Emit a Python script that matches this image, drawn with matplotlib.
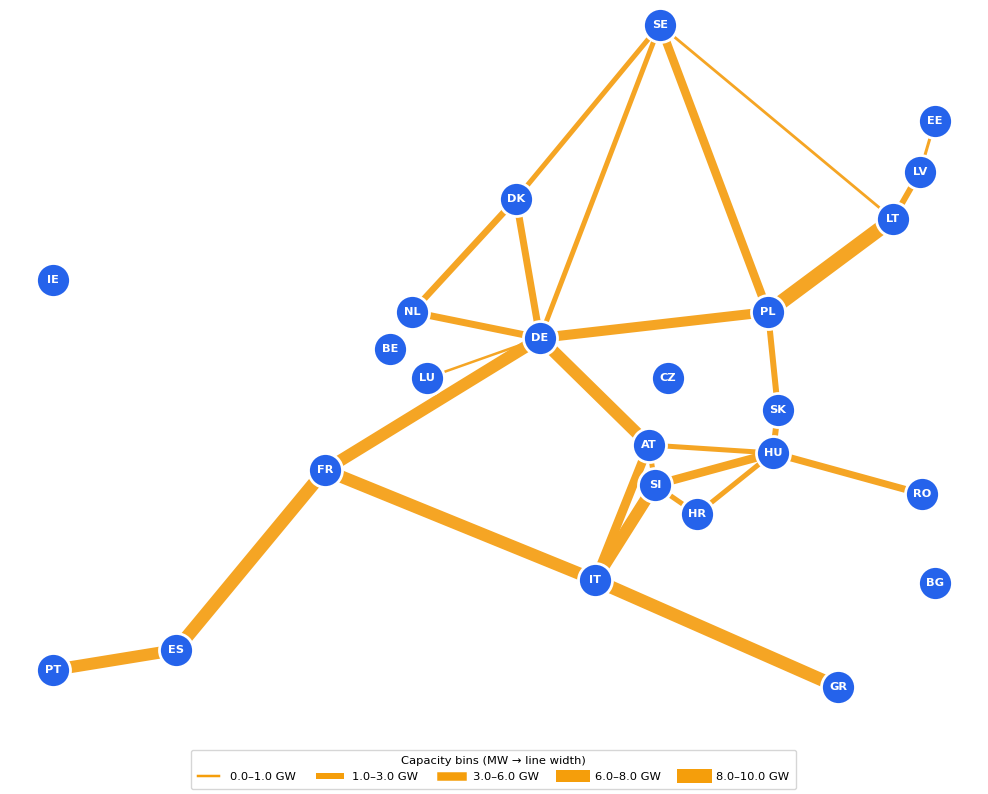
import matplotlib
matplotlib.use("Agg")
import matplotlib.pyplot as plt
from matplotlib.lines import Line2D

W, H = 988, 794
nodes = ["SE","EE","LV","LT","DK","IE","NL","PL","DE","BE","LU","CZ","SK","AT","HU","FR","SI","RO","HR","IT","BG","ES","PT","GR"]
node_x = [660,935,920,893,516,53,412,768,540,390,427,668,778,649,773,325,655,922,697,595,935,176,53,838]
node_y = [25,121,172,219,199,280,312,312,338,349,378,378,410,445,453,470,485,494,514,580,583,650,670,687]
edge_from = ["SE","SE","SE","SE","DK","DK","NL","LU","DE","DE","DE","PL","PL","LT","LV","SK","AT","AT","AT","SI","SI","SI","HR","HU","FR","FR","ES","IT"]
edge_to   = ["DK","DE","PL","LT","NL","DE","DE","DE","FR","PL","AT","LT","SK","LV","EE","HU","HU","SI","IT","HU","HR","IT","HU","RO","IT","ES","PT","GR"]
edge_px   = [5,5,8.5,2.8,6.5,7,7,2.5,12,10,12,14.5,6,6,3,6,5,5,9,8.5,5,12,5,7,12.5,13,12,13]
bin_labels = ["0.0–1.0 GW","1.0–3.0 GW","3.0–6.0 GW","6.0–8.0 GW","8.0–10.0 GW"]
bin_px = [2.5,6,8.5,12,14]

EDGE = "#f5a524"; LEG = "#f59e0b"; NODE = "#2563eb"
fig = plt.figure(figsize=(W/100, H/100), dpi=100)
ax = fig.add_axes([0, 0, 1, 1])
ax.set_xlim(0, W); ax.set_ylim(H, 0); ax.axis("off")
pos = {n: (x, y) for n, x, y in zip(nodes, node_x, node_y)}
for a, b, w in zip(edge_from, edge_to, edge_px):
    ax.plot([pos[a][0], pos[b][0]], [pos[a][1], pos[b][1]], color=EDGE, lw=w*0.72,
            solid_capstyle="butt", zorder=1)
ax.scatter(node_x, node_y, s=(2*17*0.72)**2, c=NODE, edgecolors="white", linewidths=2.0, zorder=2)
for n, x, y in zip(nodes, node_x, node_y):
    ax.text(x, y, n, color="white", ha="center", va="center", fontsize=8.2, fontweight="bold", zorder=3)
handles = [Line2D([], [], color=LEG, lw=w*0.72, solid_capstyle="projecting") for w in bin_px]
ax.legend(handles, bin_labels, title="Capacity bins (MW → line width)", ncol=5, fontsize=8.25, title_fontsize=8.25,
          loc="lower center", bbox_to_anchor=(493.5/W, 5/H), bbox_transform=fig.transFigure,
          borderaxespad=0, framealpha=0.8, borderpad=0.6, columnspacing=2.0, handlelength=1.9, handletextpad=0.95)
fig.savefig("out.png", dpi=100)
